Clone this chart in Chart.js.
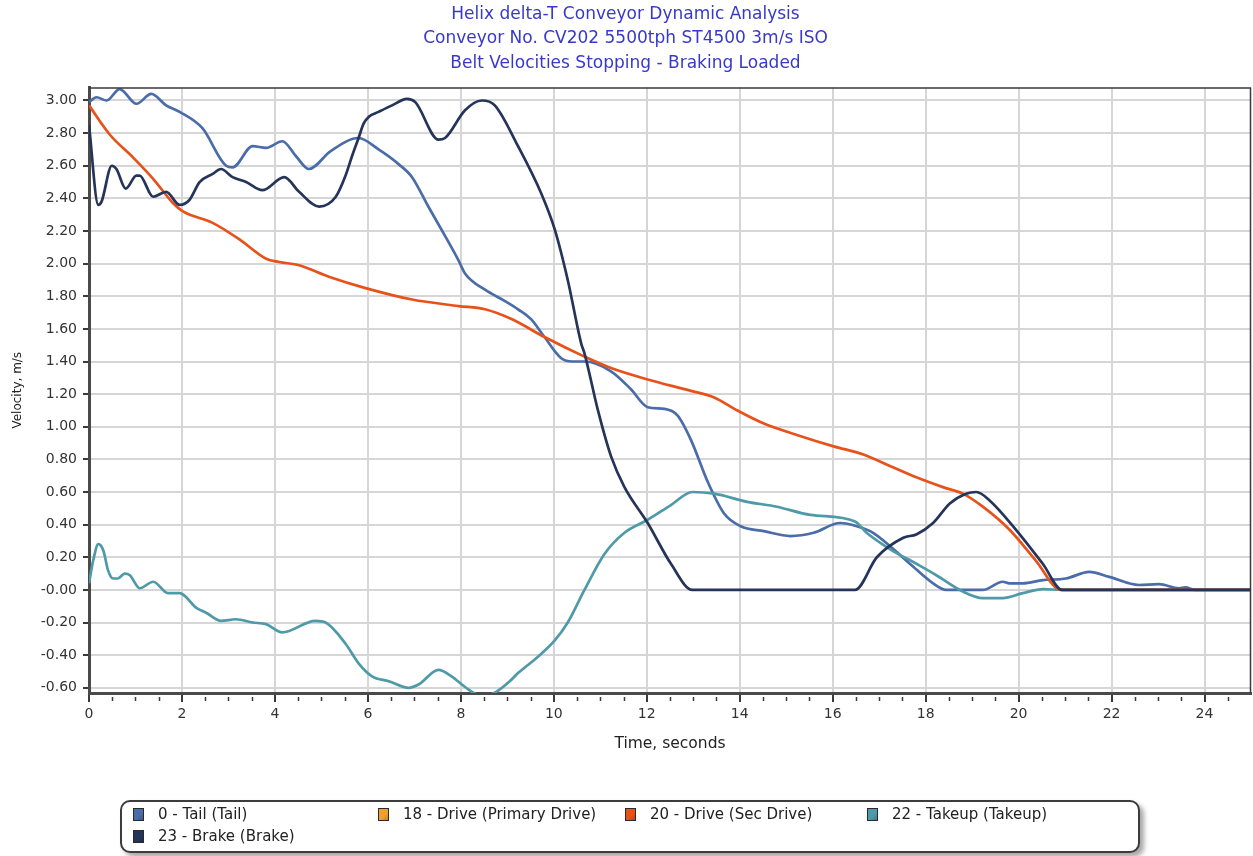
<!DOCTYPE html>
<html>
<head>
<meta charset="utf-8">
<title>Belt Velocities Stopping - Braking Loaded</title>
<script src="https://cdn.jsdelivr.net/npm/chart.js@4.4.1/dist/chart.umd.min.js"></script>
<style>
  html, body { margin: 0; padding: 0; background: #ffffff; }
  #wrap { position: relative; width: 1253px; height: 856px; overflow: hidden; }
  #chart { position: absolute; left: 0; top: 0; }
  #legend {
    position: absolute; left: 120px; top: 800px; width: 1016px; height: 49px;
    border: 2px solid #3c3c3c; border-radius: 10px; background: #fff;
    box-shadow: 4px 4px 5px rgba(0,0,0,0.35);
    font-family: "DejaVu Sans", sans-serif; font-size: 15px; color: #222;
  }
  .item { position: absolute; white-space: nowrap; line-height: 18px; }
  .sw { position: absolute; left: 0; top: 3px; width: 9px; height: 11px; border: 1px solid #2a2a2a; }
  .tx { position: absolute; left: 25px; top: 0; }
</style>
</head>
<body>
<div id="wrap">
  <canvas id="chart" width="1253" height="856"></canvas>
  <div id="legend"></div>
</div>
<script>
// ---- Series data: time (s) and belt velocity (m/s) ----
const tailTime = [0, 0.16, 0.38, 0.66, 1.02, 1.34, 1.66, 1.95, 2.44, 2.95, 3.09, 3.52, 3.81, 4.16, 4.45, 4.73, 5.2, 5.8, 6.23, 6.66, 6.95, 7.3, 7.66, 7.95, 8.09, 8.52, 8.95, 9.23, 9.51, 9.8, 10.16, 10.4, 10.66, 11.23, 11.66, 12.02, 12.38, 12.66, 12.95, 13.3, 13.66, 14.02, 14.52, 15.09, 15.59, 16.16, 16.52, 16.87, 17.66, 18.16, 18.44, 19.23, 19.66, 19.8, 20.09, 20.52, 21.02, 21.52, 21.95, 22.59, 23.02, 23.45, 23.59, 23.8, 25];
const tailVel  = [2.99, 3.02, 3.0, 3.07, 2.98, 3.04, 2.97, 2.93, 2.83, 2.6, 2.59, 2.72, 2.71, 2.75, 2.66, 2.58, 2.69, 2.77, 2.7, 2.61, 2.53, 2.35, 2.17, 2.02, 1.94, 1.84, 1.77, 1.72, 1.66, 1.55, 1.42, 1.4, 1.4, 1.34, 1.23, 1.12, 1.11, 1.07, 0.92, 0.67, 0.47, 0.39, 0.36, 0.33, 0.35, 0.41, 0.39, 0.35, 0.16, 0.04, 0.0, 0.0, 0.05, 0.04, 0.04, 0.06, 0.07, 0.11, 0.08, 0.03, 0.035, 0.01, 0.015, 0.0, 0.0];

const primaryDriveTime = [];
const primaryDriveVel  = [];

const secDriveTime = [0, 0.45, 0.95, 1.38, 1.81, 2.02, 2.66, 3.23, 3.81, 4.09, 4.52, 5.16, 5.95, 6.95, 7.95, 8.52, 9.09, 9.8, 10.66, 11.23, 12.02, 12.95, 13.45, 13.95, 14.52, 15.23, 16.02, 16.66, 17.23, 17.8, 18.37, 18.8, 19.23, 19.8, 20.37, 20.91, 25];
const secDriveVel  = [2.97, 2.79, 2.65, 2.52, 2.37, 2.32, 2.25, 2.15, 2.03, 2.01, 1.99, 1.92, 1.85, 1.78, 1.74, 1.72, 1.66, 1.55, 1.43, 1.36, 1.29, 1.22, 1.18, 1.1, 1.02, 0.95, 0.88, 0.83, 0.76, 0.69, 0.63, 0.59, 0.51, 0.37, 0.18, 0.0, 0.0];

const takeupTime = [0, 0.09, 0.2, 0.31, 0.41, 0.52, 0.62, 0.77, 0.88, 1.09, 1.38, 1.7, 1.95, 2.31, 2.52, 2.84, 3.16, 3.52, 3.81, 4.16, 4.87, 5.09, 5.52, 5.8, 6.09, 6.45, 6.88, 7.09, 7.52, 7.8, 8.16, 8.45, 8.73, 9.09, 9.23, 9.66, 10.02, 10.3, 10.66, 11.09, 11.52, 12.02, 12.52, 12.98, 13.45, 14.16, 14.8, 15.52, 16.48, 16.73, 17.23, 17.8, 18.23, 18.8, 19.23, 19.66, 20.09, 20.52, 20.94, 25];
const takeupVel  = [0.04, 0.18, 0.28, 0.24, 0.12, 0.07, 0.07, 0.1, 0.09, 0.01, 0.05, -0.02, -0.02, -0.11, -0.14, -0.19, -0.18, -0.2, -0.21, -0.26, -0.19, -0.2, -0.33, -0.45, -0.53, -0.56, -0.6, -0.58, -0.49, -0.53, -0.61, -0.65, -0.63, -0.55, -0.51, -0.41, -0.31, -0.2, 0.0, 0.22, 0.35, 0.43, 0.52, 0.6, 0.59, 0.54, 0.51, 0.46, 0.42, 0.35, 0.25, 0.16, 0.09, -0.01, -0.05, -0.05, -0.02, 0.005, 0.0, 0.0];

const brakeTime = [0, 0.2, 0.27, 0.49, 0.59, 0.79, 1.02, 1.09, 1.38, 1.66, 1.95, 2.16, 2.38, 2.66, 2.84, 3.09, 3.38, 3.73, 4.2, 4.52, 4.95, 5.31, 5.52, 5.66, 5.8, 5.91, 6.02, 6.23, 6.52, 6.84, 7.02, 7.52, 7.66, 8.09, 8.45, 8.73, 9.23, 9.73, 10.02, 10.3, 10.59, 10.66, 10.95, 11.23, 11.52, 12.02, 12.52, 12.98, 14.0, 16.48, 16.95, 17.52, 17.8, 18.16, 18.52, 18.87, 19.09, 19.37, 19.94, 20.52, 20.94, 25];
const brakeVel  = [2.85, 2.36, 2.38, 2.6, 2.58, 2.46, 2.54, 2.54, 2.41, 2.44, 2.36, 2.39, 2.5, 2.55, 2.58, 2.53, 2.5, 2.45, 2.53, 2.44, 2.35, 2.41, 2.54, 2.66, 2.77, 2.86, 2.9, 2.93, 2.97, 3.01, 2.99, 2.76, 2.77, 2.94, 3.0, 2.97, 2.72, 2.43, 2.21, 1.9, 1.51, 1.45, 1.1, 0.82, 0.63, 0.41, 0.16, 0.0, 0.0, 0.0, 0.2, 0.32, 0.34, 0.41, 0.53, 0.59, 0.6, 0.55, 0.37, 0.16, 0.0, 0.0];

// ---- Axis ticks ----
const timeTicks = [0, 2, 4, 6, 8, 10, 12, 14, 16, 18, 20, 22, 24];
const velocityTicks = [-0.6, -0.4, -0.2, 0, 0.2, 0.4, 0.6, 0.8, 1.0, 1.2, 1.4, 1.6, 1.8, 2.0, 2.2, 2.4, 2.6, 2.8, 3.0];
const velocityTickLabels = ['-0.60', '-0.40', '-0.20', '-0.00', '0.20', '0.40', '0.60', '0.80', '1.00', '1.20', '1.40', '1.60', '1.80', '2.00', '2.20', '2.40', '2.60', '2.80', '3.00'];

const titleLines = [
  'Helix delta-T Conveyor Dynamic Analysis',
  'Conveyor No. CV202 5500tph ST4500 3m/s ISO',
  'Belt Velocities Stopping - Braking Loaded'
];

const FONT = '"DejaVu Sans", sans-serif';

function points(ts, vs) { return ts.map((t, i) => ({ x: t, y: vs[i] })); }

const seriesDefs = [
  { label: '0 - Tail (Tail)',               t: tailTime,         v: tailVel,         color: '#4a6ca8', order: 3 },
  { label: '18 - Drive (Primary Drive)',    t: primaryDriveTime, v: primaryDriveVel, color: '#f0a030', order: 4 },
  { label: '20 - Drive (Sec Drive)',        t: secDriveTime,     v: secDriveVel,     color: '#e8521a', order: 1 },
  { label: '22 - Takeup (Takeup)',          t: takeupTime,       v: takeupVel,       color: '#4e9aa8', order: 2 },
  { label: '23 - Brake (Brake)',            t: brakeTime,        v: brakeVel,        color: '#25355a', order: 0 }
];

// Minor ticks below the time axis and the thin top/right frame
const framePlugin = {
  id: 'frame',
  afterDraw(chart) {
    const { ctx, chartArea: a, scales: { x } } = chart;
    ctx.save();
    ctx.strokeStyle = '#3a3a3a';
    ctx.lineWidth = 1.5;
    ctx.beginPath();
    ctx.moveTo(a.left, a.top + 0.5); ctx.lineTo(a.right, a.top + 0.5);
    ctx.moveTo(a.right - 0.5, a.top); ctx.lineTo(a.right - 0.5, a.bottom);
    ctx.stroke();
    ctx.beginPath();
    for (let t = 0.5; t < 25; t += 0.5) {
      if (t % 2 === 0) continue;
      const px = Math.round(x.getPixelForValue(t)) + 0.5;
      ctx.moveTo(px, a.bottom + 4); ctx.lineTo(px, a.bottom + 8);
    }
    ctx.stroke();
    ctx.restore();
  }
};

const chart = new Chart(document.getElementById('chart'), {
  type: 'line',
  data: {
    datasets: seriesDefs.map(s => ({
      label: s.label,
      data: points(s.t, s.v),
      borderColor: s.color,
      backgroundColor: s.color,
      borderWidth: 2.7,
      pointRadius: 0,
      cubicInterpolationMode: 'monotone',
      fill: false,
      order: s.order
    }))
  },
  options: {
    responsive: false,
    animation: false,
    layout: { padding: { top: 2, left: 0, right: 2, bottom: 0 } },
    plugins: {
      legend: { display: false },
      tooltip: { enabled: false },
      title: {
        display: true,
        text: titleLines,
        color: '#3838cc',
        font: { family: FONT, size: 17, weight: 'normal', lineHeight: 1.44 },
        padding: { top: 0, bottom: 12 }
      }
    },
    scales: {
      x: {
        type: 'linear',
        min: 0, max: 25,
        afterBuildTicks: s => { s.ticks = timeTicks.map(v => ({ value: v })); },
        afterFit: s => { s.height = 163; },
        grid: { color: '#d6d6d6', lineWidth: 2, tickColor: '#3a3a3a', tickLength: 9, drawTicks: true },
        border: { color: '#4a4a4a', width: 3 },
        ticks: { color: '#333', font: { family: FONT, size: 14 }, padding: 4, maxRotation: 0, autoSkip: false, callback: v => String(v) },
        title: { display: true, text: 'Time, seconds', color: '#222', font: { family: FONT, size: 15.5 }, padding: { top: 0, bottom: 102.7 } }
      },
      y: {
        type: 'linear',
        min: -0.632, max: 3.08,
        afterBuildTicks: s => { s.ticks = velocityTicks.map(v => ({ value: v })); },
        afterFit: s => { s.width = 89; },
        grid: { color: '#d6d6d6', lineWidth: 2, tickColor: '#3a3a3a', tickLength: 6, drawTicks: true },
        border: { color: '#4a4a4a', width: 3 },
        ticks: { color: '#333', font: { family: FONT, size: 14 }, padding: 6, autoSkip: false, callback: (v, i) => velocityTickLabels[i] },
        title: { display: true, text: 'Velocity, m/s', color: '#222', font: { family: FONT, size: 12 }, padding: { top: 10.8, bottom: 0 } }
      }
    }
  },
  plugins: [framePlugin]
});

// Legend box, built from the chart's datasets
const legendCols = [0, 245, 492, 734];
const legendEl = document.getElementById('legend');
chart.data.datasets.forEach((ds, i) => {
  const item = document.createElement('div');
  item.className = 'item';
  item.style.left = (11 + legendCols[i % 4]) + 'px';
  item.style.top = (3 + Math.floor(i / 4) * 22) + 'px';
  const sw = document.createElement('span');
  sw.className = 'sw';
  sw.style.background = 'linear-gradient(135deg, ' + ds.borderColor + ' 0%, ' + ds.borderColor + ' 60%, #00000033 100%)';
  sw.style.backgroundColor = ds.borderColor;
  const tx = document.createElement('span');
  tx.className = 'tx';
  tx.textContent = ds.label;
  item.appendChild(sw);
  item.appendChild(tx);
  legendEl.appendChild(item);
});
</script>
</body>
</html>
